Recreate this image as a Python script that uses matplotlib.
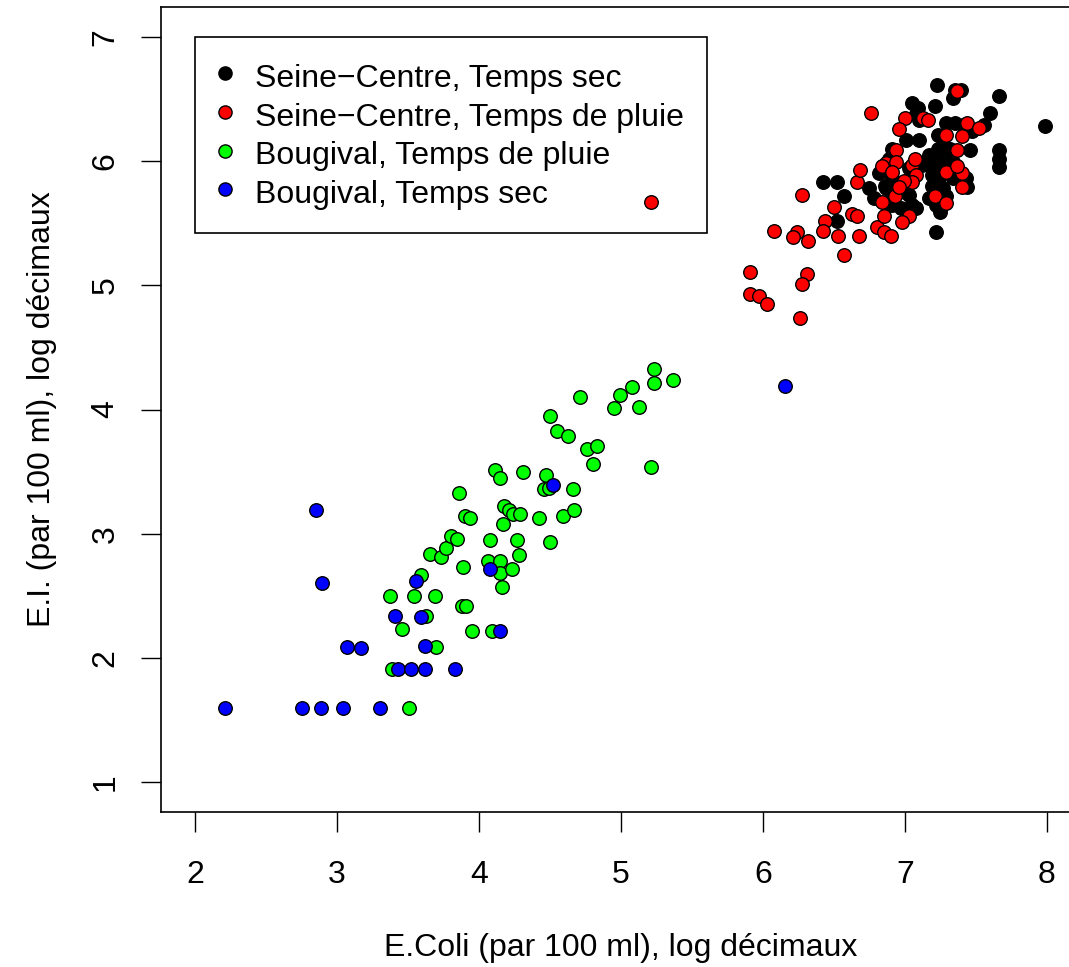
import matplotlib
matplotlib.use("Agg")
import matplotlib.pyplot as plt
from matplotlib.lines import Line2D

plt.rcParams['font.family'] = ['Liberation Sans', 'DejaVu Sans']

# Seine-Centre, Temps sec (black)
sc_sec_x = [6.42, 6.52, 6.57, 6.745, 6.52, 7.226, 7.35, 7.395, 7.66, 7.60,
            7.05, 7.09, 7.21, 7.34, 7.08, 7.10, 7.985, 7.56, 7.29, 7.35,
            7.41, 7.47, 7.01, 7.10, 7.23, 7.23, 7.24, 7.27, 7.27, 7.66,
            7.66, 7.66, 6.91, 6.89, 7.46, 7.32, 7.29, 7.34, 7.29, 7.17,
            7.12, 7.15, 7.22, 7.31, 7.24, 7.34, 7.43, 6.82, 7.03, 7.00,
            7.03, 7.05, 6.97, 6.91, 6.86, 6.91, 7.19, 7.19, 7.24, 7.29,
            7.17, 7.22, 7.08, 6.785, 7.27, 7.245, 7.44, 7.22, 6.87, 6.91]
sc_sec_y = [5.83, 5.83, 5.72, 5.78, 5.52, 6.61, 6.57, 6.57, 6.52, 6.39,
            6.47, 6.43, 6.44, 6.51, 6.38, 6.33, 6.28, 6.29, 6.31, 6.31,
            6.29, 6.24, 6.17, 6.17, 6.21, 6.10, 6.02, 6.13, 6.07, 6.09,
            6.02, 5.95, 6.10, 6.02, 6.09, 6.10, 6.02, 5.99, 6.05, 6.05,
            5.97, 5.99, 5.94, 5.94, 5.86, 5.86, 5.86, 5.90, 5.94, 5.75,
            5.73, 5.645, 5.62, 5.72, 5.80, 5.86, 5.885, 5.80, 5.75, 5.72,
            5.70, 5.645, 5.62, 5.70, 5.78, 5.59, 5.79, 5.43, 5.78, 5.645]

# Seine-Centre, Temps de pluie (red)
sc_pluie_x = [5.21, 6.278, 6.50, 6.44, 6.625, 6.665, 6.08, 6.24, 6.21, 6.32,
              6.42, 6.525, 6.675, 6.57, 6.80, 6.85, 6.84, 6.85, 6.90, 6.93,
              5.91, 6.31, 6.275, 5.91, 5.97, 6.03, 6.26, 6.66, 6.76, 7.00,
              6.96, 7.125, 7.16, 7.37, 7.44, 7.52, 7.29, 7.40, 6.94, 7.37,
              6.87, 6.94, 6.84, 7.05, 7.07, 6.91, 6.68, 7.08, 7.05, 6.99,
              6.96, 7.03, 6.98, 7.21, 7.29, 7.29, 7.40, 7.37, 7.40]
sc_pluie_y = [5.67, 5.73, 5.63, 5.52, 5.57, 5.56, 5.44, 5.43, 5.39, 5.36,
              5.44, 5.40, 5.40, 5.24, 5.47, 5.56, 5.67, 5.43, 5.40, 5.72,
              5.11, 5.09, 5.01, 4.93, 4.91, 4.85, 4.74, 5.83, 6.39, 6.35,
              6.26, 6.35, 6.33, 6.56, 6.31, 6.27, 6.21, 6.20, 6.09, 6.09,
              5.985, 5.99, 5.96, 5.97, 6.02, 5.91, 5.93, 5.885, 5.83, 5.84,
              5.79, 5.56, 5.51, 5.72, 5.66, 5.91, 5.90, 5.96, 5.79]

# Bougival, Temps de pluie (green)
boug_pluie_x = [3.386, 3.51, 3.376, 3.54, 3.69, 3.46, 3.70, 3.63, 3.59, 3.657,
                3.73, 3.77, 3.80, 3.845, 3.86, 3.89, 3.88, 3.91, 3.90, 3.935,
                4.497, 4.55, 4.63, 4.11, 4.15, 4.31, 4.47, 4.46, 4.49, 4.66,
                4.176, 4.21, 4.24, 4.29, 4.17, 4.42, 4.59, 4.67, 4.08, 4.27,
                4.50, 4.28, 4.06, 4.145, 4.15, 4.23, 4.16, 4.09, 3.95, 5.233,
                5.233, 5.367, 5.075, 4.99, 4.95, 5.13, 4.71, 4.76, 4.83, 4.80,
                5.21]
boug_pluie_y = [1.91, 1.60, 2.50, 2.50, 2.50, 2.23, 2.09, 2.34, 2.67, 2.84,
                2.81, 2.886, 2.98, 2.96, 3.33, 2.73, 2.42, 2.42, 3.14, 3.13,
                3.95, 3.83, 3.79, 3.51, 3.45, 3.50, 3.47, 3.36, 3.37, 3.36,
                3.22, 3.19, 3.16, 3.16, 3.08, 3.13, 3.14, 3.19, 2.95, 2.95,
                2.93, 2.83, 2.78, 2.78, 2.68, 2.72, 2.57, 2.22, 2.22, 4.33,
                4.21, 4.24, 4.185, 4.12, 4.01, 4.02, 4.10, 3.68, 3.71, 3.565,
                3.54]

# Bougival, Temps sec (blue)
boug_sec_x = [2.21, 2.75, 2.887, 3.04, 3.30, 2.85, 2.896, 3.073, 3.17, 3.41,
              3.553, 3.593, 3.62, 3.43, 3.52, 3.62, 3.83, 4.08, 4.145, 4.52,
              6.155]
boug_sec_y = [1.60, 1.60, 1.60, 1.60, 1.60, 3.19, 2.606, 2.09, 2.08, 2.34,
              2.62, 2.33, 2.095, 1.91, 1.91, 1.91, 1.91, 2.72, 2.22, 3.39,
              4.19]

labels = ["Seine\u2212Centre, Temps sec", "Seine\u2212Centre, Temps de pluie",
          "Bougival, Temps de pluie", "Bougival, Temps sec"]
colors = ["#000000", "#FF0000", "#00FF00", "#0000FF"]
xticks = [2, 3, 4, 5, 6, 7, 8]
yticks = [1, 2, 3, 4, 5, 6, 7]

FS = 23
W, H = 1069, 967
fig = plt.figure(figsize=(W / 100, H / 100), dpi=100)
ax = fig.add_axes([161 / W, (H - 812) / H, 920 / W, 805 / H])

series = [(sc_sec_x, sc_sec_y), (sc_pluie_x, sc_pluie_y),
          (boug_pluie_x, boug_pluie_y), (boug_sec_x, boug_sec_y)]
for (xs, ys), c in zip(series, colors):
    ax.scatter(xs, ys, s=95, c=c, edgecolors="black", linewidths=1.0, zorder=3)

ax.set_xlim(1.76, 8.24)
ax.set_ylim(0.76, 7.24)
ax.set_xticks(xticks)
ax.set_yticks(yticks)
ax.set_xticklabels([str(t) for t in xticks])
ax.set_yticklabels([str(t) for t in yticks], rotation=90, va="center")
ax.tick_params(axis="both", direction="out", length=14.5, width=1.0,
               labelsize=FS, colors="black")
ax.tick_params(axis="x", pad=20)
ax.tick_params(axis="y", pad=14.5)
for sp in ax.spines.values():
    sp.set_linewidth(1.2)

ax.set_xlabel("E.Coli (par 100 ml), log décimaux", fontsize=FS, labelpad=31)
ax.set_ylabel("E.I. (par 100 ml), log décimaux", fontsize=FS, labelpad=24)

handles = [Line2D([], [], linestyle="none", marker="o", markersize=9.5,
                  markerfacecolor=c, markeredgecolor="black", markeredgewidth=1.0)
           for c in colors]
leg = ax.legend(handles, labels, loc="upper left", bbox_to_anchor=(2.0, 7.0),
                bbox_transform=ax.transData, borderaxespad=0, fontsize=FS,
                frameon=True, fancybox=False, framealpha=1, edgecolor="black",
                borderpad=0.72, labelspacing=0.14, handlelength=0.45,
                handleheight=1.2, handletextpad=0.7)
leg.get_frame().set_linewidth(1.2)
leg.set_zorder(2)

fig.savefig("out.png", dpi=100)
